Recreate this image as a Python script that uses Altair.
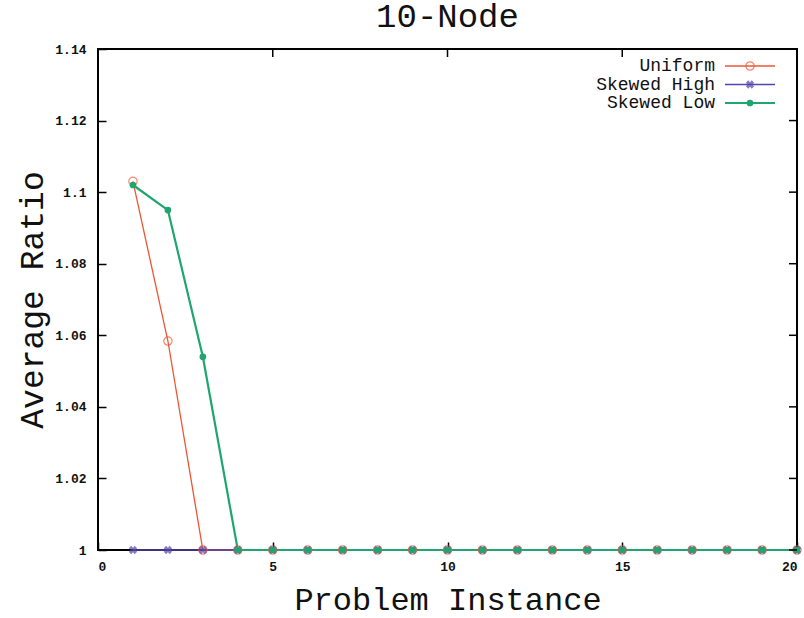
import altair as alt
import pandas as pd

instances = [1, 2, 3, 4, 5, 6, 7, 8, 9, 10, 11, 12, 13, 14, 15, 16, 17, 18, 19, 20]
uniform = [1.103, 1.0584, 1.0, 1.0, 1.0, 1.0, 1.0, 1.0, 1.0, 1.0,
           1.0, 1.0, 1.0, 1.0, 1.0, 1.0, 1.0, 1.0, 1.0, 1.0]
skewed_high = [1.0, 1.0, 1.0, 1.0, 1.0, 1.0, 1.0, 1.0, 1.0, 1.0,
               1.0, 1.0, 1.0, 1.0, 1.0, 1.0, 1.0, 1.0, 1.0, 1.0]
skewed_low = [1.102, 1.095, 1.054, 1.0, 1.0, 1.0, 1.0, 1.0, 1.0, 1.0,
              1.0, 1.0, 1.0, 1.0, 1.0, 1.0, 1.0, 1.0, 1.0, 1.0]
x_ticks = [0, 5, 10, 15, 20]
y_ticks = [1.0, 1.02, 1.04, 1.06, 1.08, 1.1, 1.12, 1.14]

FONT = "Liberation Mono"
W, H = 699, 501
C_U, C_H, C_L = "#ee5533", "#5544aa", "#1fa670"
FRAME = "black"
TK = 8

xs = alt.Scale(domain=[0, 20], nice=False, zero=False)
ys = alt.Scale(domain=[1.0, 1.14], nice=False, zero=False)

def df(vals):
    return pd.DataFrame({"x": instances, "y": vals})

# axes pulled inside the frame by the tick length so that ticks point inward
xenc = alt.X("x:Q", scale=xs, axis=alt.Axis(
    values=x_ticks, offset=-TK, tickSize=TK, tickColor=FRAME, tickWidth=1.5,
    labelPadding=10, labelFont=FONT, labelFontSize=13,
    labelFontWeight="bold", labelColor="#111", domain=False, grid=False,
    title="Problem Instance", titleFont=FONT, titleFontSize=32, titleFontWeight="normal",
    titleColor="#111", titleY=49 + TK, titleBaseline="middle"))
yenc = alt.Y("y:Q", scale=ys, axis=alt.Axis(
    values=y_ticks, offset=-TK, tickSize=TK, tickColor=FRAME, tickWidth=1.5,
    labelPadding=12, labelFont=FONT, labelFontSize=13,
    labelFontWeight="bold", labelColor="#111", format="~g", domain=False, grid=False,
    title="Average Ratio", titleFont=FONT, titleFontSize=33, titleFontWeight="normal",
    titleColor="#111", titleX=-66 - TK, titleY=H / 2, titleAngle=270, titleBaseline="middle"))

u_line = alt.Chart(df(uniform)).mark_line(color=C_U, strokeWidth=1.3, clip=False).encode(x=xenc, y=yenc)
u_pts = alt.Chart(df(uniform)).mark_point(shape="circle", filled=False, color=C_U, size=70,
                                          strokeWidth=1.2, clip=False).encode(x="x:Q", y="y:Q")
h_line = alt.Chart(df(skewed_high)).mark_line(color=C_H, strokeWidth=1.3, clip=False).encode(x="x:Q", y="y:Q")
h_pts = alt.Chart(df(skewed_high)).mark_point(shape="cross", angle=45, filled=True, color=C_H, size=70,
                                              clip=False).encode(x="x:Q", y="y:Q")
l_line = alt.Chart(df(skewed_low)).mark_line(color=C_L, strokeWidth=2.2, clip=False).encode(x="x:Q", y="y:Q")
l_pts = alt.Chart(df(skewed_low)).mark_point(shape="circle", filled=True, color=C_L, size=45,
                                             opacity=1, clip=False).encode(x="x:Q", y="y:Q")

# inward ticks on top and right sides
xt = pd.DataFrame({"x": x_ticks})
yt = pd.DataFrame({"y": y_ticks})
tick_t = alt.Chart(xt).mark_rule(color=FRAME, strokeWidth=1.5).encode(
    x="x:Q", y=alt.value(0), y2=alt.value(TK))
tick_r = alt.Chart(yt).mark_rule(color=FRAME, strokeWidth=1.5).encode(
    y="y:Q", x=alt.value(W), x2=alt.value(W - TK))

# legend
one = pd.DataFrame({"a": [0]})
legend_items = [("Uniform", C_U, 17), ("Skewed High", C_H, 35.5), ("Skewed Low", C_L, 54)]
legend_layers = []
for label, col, yy in legend_items:
    legend_layers.append(alt.Chart(one).mark_text(
        text=label, align="right", baseline="middle", font=FONT, fontSize=18, color="#111"
    ).encode(x=alt.value(617), y=alt.value(yy)))
    legend_layers.append(alt.Chart(one).mark_rule(
        color=col, strokeWidth=2.2 if label == "Skewed Low" else 1.3
    ).encode(x=alt.value(627), x2=alt.value(677), y=alt.value(yy)))
legend_layers.append(alt.Chart(one).mark_point(shape="circle", filled=False, color=C_U, size=70,
                                               strokeWidth=1.2).encode(x=alt.value(652), y=alt.value(17)))
legend_layers.append(alt.Chart(one).mark_point(shape="cross", angle=45, filled=True, color=C_H,
                                               size=70).encode(x=alt.value(652), y=alt.value(35.5)))
legend_layers.append(alt.Chart(one).mark_point(shape="circle", filled=True, color=C_L, opacity=1,
                                               size=45).encode(x=alt.value(652), y=alt.value(54)))

chart = alt.layer(
    u_line, h_line, l_line, u_pts, h_pts, l_pts,
    tick_t, tick_r, *legend_layers
).properties(
    width=W, height=H,
    title=alt.TitleParams("10-Node", font=FONT, fontSize=34, fontWeight="normal",
                          color="#111", anchor="middle", offset=9),
    autosize=alt.AutoSizeParams(type="none"),
    padding={"left": 98, "top": 49, "right": 7, "bottom": 68},
).configure_view(stroke="black", strokeWidth=2)

chart.save("out.html", embed_options={"renderer": "svg", "actions": False})
